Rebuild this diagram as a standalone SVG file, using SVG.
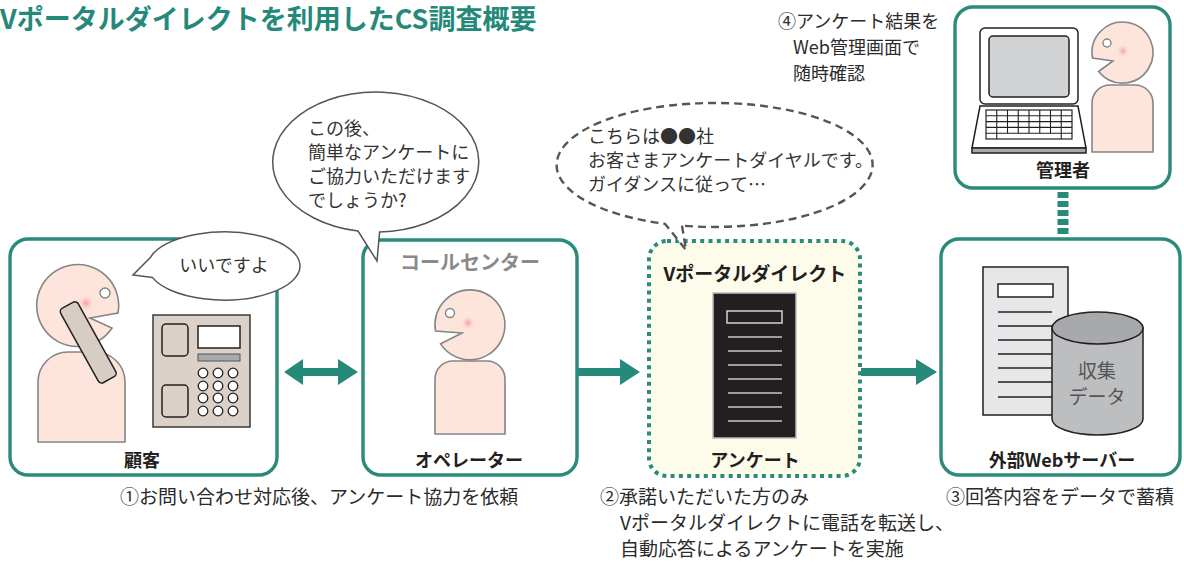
<svg xmlns="http://www.w3.org/2000/svg" width="1184" height="563" viewBox="0 0 1184 563">
  <style>
    text { font-family: "Noto Sans CJK JP", "Noto Sans", sans-serif; fill: #2b2b2b; }
    .title { font-size: 27px; font-weight: bold; fill: #25897a; }
    .note { font-size: 18px; }
    .step { font-size: 19px; }
    .say { font-size: 18px; fill: #333333; }
    .label { font-size: 18px; font-weight: bold; text-anchor: middle; fill: #231f20; }
    .frame { fill: #ffffff; stroke: #2a8a7b; stroke-width: 3.4; }
    .frame-dot { fill: #fdfbea; stroke: #2a8a7b; stroke-width: 4; stroke-dasharray: 4 4.3; }
    .skin { fill: #fde5dc; stroke: #858585; stroke-width: 1.6; }
    .eye { fill: #ffffff; stroke: #858585; stroke-width: 1.4; }
    .bubble { fill: #ffffff; stroke: #555555; stroke-width: 1.5; }
    .bubble-dash { fill: #ffffff; stroke: #555555; stroke-width: 2.4; stroke-dasharray: 8 5; }
    .ink { stroke: #231f20; stroke-width: 1.5; }
    .arrow { fill: #268a7a; }
  </style>
  <defs>
    <radialGradient id="blush">
      <stop offset="0" stop-color="#f4939f" stop-opacity="0.9"/>
      <stop offset="1" stop-color="#fde5dc" stop-opacity="0"/>
    </radialGradient>
  </defs>

  <text class="title" x="0" y="29">Vポータルダイレクトを利用したCS調査概要</text>

  <!-- connectors -->
  <g id="connectors">
    <polygon class="arrow" points="284,372 303,359 303,368 338,368 338,359 358,372 338,385 338,376 303,376 303,385"/>
    <polygon class="arrow" points="578,368 620,368 620,359 640,372 620,385 620,376 578,376"/>
    <polygon class="arrow" points="861,368 916,368 916,359 937,372 916,385 916,376 861,376"/>
    <line x1="1063" y1="192" x2="1063" y2="236" stroke="#268a7a" stroke-width="11" stroke-dasharray="6 3"/>
  </g>

  <!-- customer -->
  <g id="customer">
    <rect class="frame" x="10" y="239" width="267" height="236" rx="18"/>
    <path class="skin" d="M38,442 V382 A30,30 0 0 1 68,352 H95 A30,30 0 0 1 125,382 V442 Z"/>
    <path class="skin" d="M90,318 L118,313 A41,41 0 1 0 112,328 Z"/>
    <circle cx="86" cy="303" r="9" fill="url(#blush)"/>
    <circle class="eye" cx="105" cy="293" r="5"/>
    <rect x="78" y="300" width="20" height="85" rx="4" fill="#d8cdc4" class="ink" transform="rotate(-29 88 342)"/>
    <rect x="153" y="315" width="97" height="112" fill="#dcd1c8" stroke="#3a3a3a" stroke-width="1.5"/>
    <rect x="162" y="324" width="26" height="32" rx="4" fill="#dcd1c8" class="ink"/>
    <rect x="162" y="385" width="26" height="32" rx="4" fill="#dcd1c8" class="ink"/>
    <rect x="198" y="326" width="42" height="22" fill="#ffffff" class="ink"/>
    <rect x="198" y="354" width="42" height="7" fill="#a7a9ac" stroke="#555" stroke-width="1"/>
    <g fill="#ffffff" stroke="#231f20" stroke-width="1.3">
      <circle cx="203" cy="373" r="4.8"/><circle cx="218" cy="373" r="4.8"/><circle cx="233" cy="373" r="4.8"/>
      <circle cx="203" cy="386" r="4.8"/><circle cx="218" cy="386" r="4.8"/><circle cx="233" cy="386" r="4.8"/>
      <circle cx="203" cy="398" r="4.8"/><circle cx="218" cy="398" r="4.8"/><circle cx="233" cy="398" r="4.8"/>
      <circle cx="203" cy="411" r="4.8"/><circle cx="218" cy="411" r="4.8"/><circle cx="233" cy="411" r="4.8"/>
    </g>
    <text class="label" x="142" y="467">顧客</text>
    <path class="bubble" d="M152.6,277.6 L133,275 L150.6,257.2 A76,34 0 1 1 152.6,277.6 Z"/>
    <text class="say" x="224" y="272" text-anchor="middle">いいですよ</text>
  </g>

  <!-- call center -->
  <g id="callcenter">
    <rect class="frame" x="363" y="240" width="214" height="235" rx="18"/>
    <text x="470" y="270" text-anchor="middle" font-size="20" font-weight="bold" style="fill:#8a8a8a">コールセンター</text>
    <path class="skin" d="M435,434 V379 A18,18 0 0 1 453,361 H487 A18,18 0 0 1 505,379 V434 Z"/>
    <path class="skin" d="M462,333 L435.5,331 A35,35 0 1 1 440.6,343.9 Z"/>
    <circle cx="468" cy="323" r="8" fill="url(#blush)"/>
    <circle class="eye" cx="450" cy="313" r="4.5"/>
    <text class="label" x="469" y="467">オペレーター</text>
    <path class="bubble" d="M379.6,232 L377,261 L358,231 A103,70 0 1 1 379.6,232 Z"/>
    <text class="say" x="308" y="135">この後、</text>
    <text class="say" x="308" y="159">簡単なアンケートに</text>
    <text class="say" x="308" y="183">ご協力いただけます</text>
    <text class="say" x="308" y="207">でしょうか?</text>
  </g>

  <!-- V portal direct -->
  <g id="vportal">
    <rect class="frame-dot" x="649" y="241" width="211" height="235" rx="18"/>
    <text x="755" y="281" text-anchor="middle" font-size="19" font-weight="bold" style="fill:#231f20">Vポータルダイレクト</text>
    <rect x="713" y="293" width="83" height="145" fill="#231f20" stroke="#bcbec0" stroke-width="1.5"/>
    <rect x="727" y="311" width="55" height="12" fill="none" stroke="#d1d3d4" stroke-width="1.5"/>
    <g stroke="#c8c8c8" stroke-width="1.5">
      <line x1="728" y1="337" x2="782" y2="337"/><line x1="728" y1="351" x2="782" y2="351"/>
      <line x1="728" y1="365" x2="782" y2="365"/><line x1="728" y1="379" x2="782" y2="379"/>
      <line x1="728" y1="393" x2="782" y2="393"/><line x1="728" y1="407" x2="782" y2="407"/>
      <line x1="728" y1="421" x2="782" y2="421"/>
    </g>
    <text class="label" x="755" y="467">アンケート</text>
    <path class="bubble-dash" d="M682,225.6 L686,250 L665,223.8 A158,62 0 1 1 682,225.6 Z"/>
    <text class="say" x="588" y="143">こちらは●●社</text>
    <text class="say" x="588" y="167">お客さまアンケートダイヤルです。</text>
    <text class="say" x="588" y="191">ガイダンスに従って…</text>
  </g>

  <!-- external web server -->
  <g id="webserver">
    <rect class="frame" x="941" y="239" width="239" height="236" rx="18"/>
    <rect x="983" y="267" width="85" height="148" fill="#e6e7e8" class="ink"/>
    <rect x="998" y="284" width="55" height="13" fill="#ffffff" class="ink"/>
    <g class="ink">
      <line x1="998" y1="312" x2="1052" y2="312"/><line x1="998" y1="326" x2="1052" y2="326"/>
      <line x1="998" y1="340" x2="1052" y2="340"/><line x1="998" y1="354" x2="1052" y2="354"/>
      <line x1="998" y1="368" x2="1052" y2="368"/><line x1="998" y1="382" x2="1052" y2="382"/>
      <line x1="998" y1="397" x2="1052" y2="397"/>
    </g>
    <path d="M1052,328 V419 A45.5,16 0 0 0 1143,419 V328 Z" fill="#bcbec0" class="ink"/>
    <ellipse cx="1097.5" cy="328" rx="45.5" ry="16" fill="#a7a9ac" class="ink"/>
    <text x="1097" y="378" text-anchor="middle" font-size="19" style="fill:#555555">収集</text>
    <text x="1097" y="404" text-anchor="middle" font-size="19" style="fill:#555555">データ</text>
    <text class="label" x="1062" y="467">外部Webサーバー</text>
  </g>

  <!-- administrator -->
  <g id="admin">
    <rect class="frame" x="955" y="7" width="215" height="181" rx="18"/>
    <rect x="980" y="28" width="98" height="76" rx="5" fill="#ffffff" class="ink"/>
    <rect x="989" y="36" width="80" height="61" rx="4" fill="#d1d3d4" class="ink"/>
    <polygon points="980,106 1078,106 1086,148 972,148" fill="#ffffff" class="ink"/>
    <rect x="972" y="148" width="114" height="5" fill="#a7a9ac" class="ink"/>
    <rect x="986" y="110" width="86" height="29" fill="#ffffff" stroke="#231f20" stroke-width="1.2"/>
    <g stroke="#231f20" stroke-width="1.1">
      <line x1="986" y1="115.8" x2="1072" y2="115.8"/><line x1="986" y1="121.6" x2="1072" y2="121.6"/>
      <line x1="986" y1="127.4" x2="1072" y2="127.4"/><line x1="986" y1="133.2" x2="1072" y2="133.2"/>
      <line x1="996.75" y1="110" x2="996.75" y2="139"/><line x1="1007.5" y1="110" x2="1007.5" y2="133.2"/>
      <line x1="1018.25" y1="110" x2="1018.25" y2="133.2"/><line x1="1029" y1="110" x2="1029" y2="133.2"/>
      <line x1="1039.75" y1="110" x2="1039.75" y2="133.2"/><line x1="1050.5" y1="110" x2="1050.5" y2="133.2"/>
      <line x1="1061.25" y1="110" x2="1061.25" y2="139"/>
    </g>
    <path class="skin" d="M1092,152 V103 A18,18 0 0 1 1110,85 H1135 A18,18 0 0 1 1153,103 V152 Z"/>
    <path class="skin" d="M1113,61 L1092.5,58 A30.5,30.5 0 1 1 1098.6,71.5 Z"/>
    <circle cx="1123" cy="51" r="7" fill="url(#blush)"/>
    <circle class="eye" cx="1107" cy="43" r="4"/>
    <text class="label" x="1063" y="177">管理者</text>
  </g>

  <!-- step notes -->
  <g id="notes">
    <text class="note" x="778" y="28">④アンケート結果を</text>
    <text class="note" x="793" y="54">Web管理画面で</text>
    <text class="note" x="793" y="80">随時確認</text>
    <text class="step" x="120" y="504">①お問い合わせ対応後、アンケート協力を依頼</text>
    <text class="step" x="600" y="504">②承諾いただいた方のみ</text>
    <text class="step" x="620" y="530">Vポータルダイレクトに電話を転送し、</text>
    <text class="step" x="620" y="556">自動応答によるアンケートを実施</text>
    <text class="step" x="946" y="504">③回答内容をデータで蓄積</text>
  </g>
</svg>
